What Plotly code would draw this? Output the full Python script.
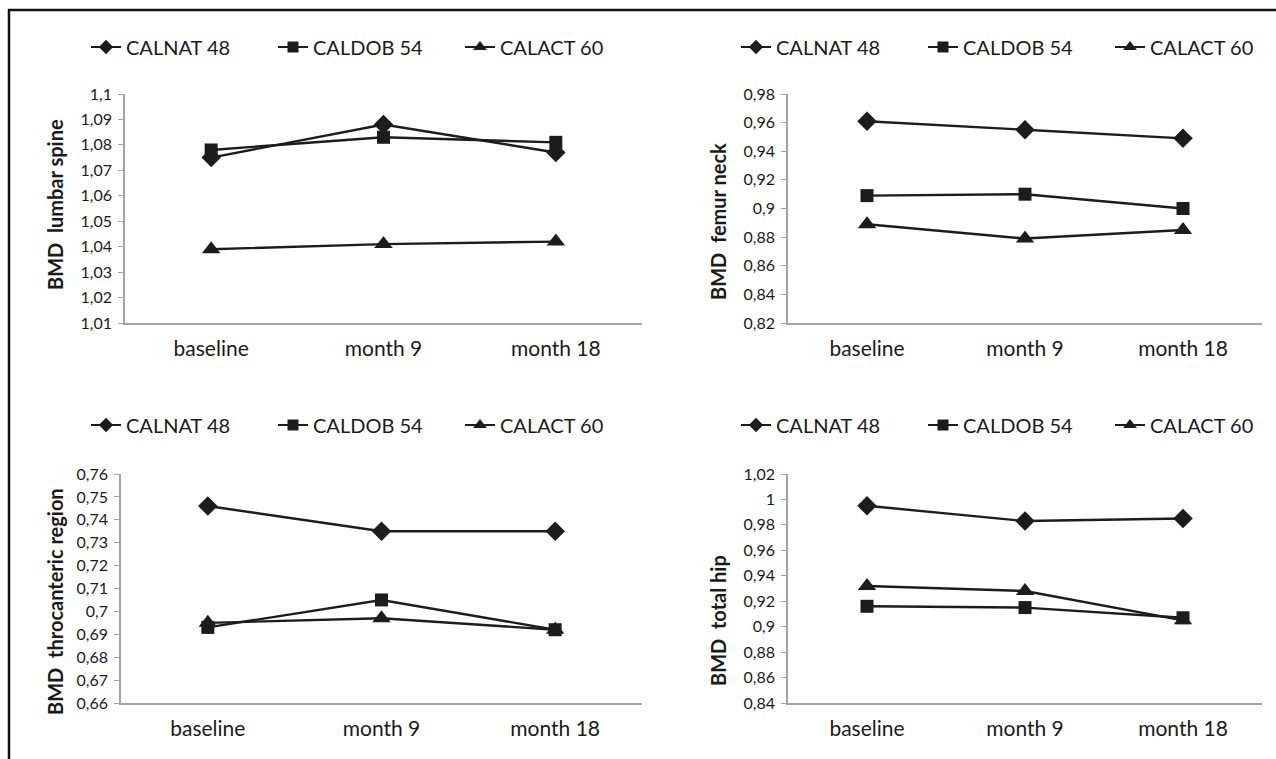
import plotly.graph_objects as go

# ---------------- data ----------------
categories = ["baseline", "month 9", "month 18"]
series_names = ["CALNAT 48", "CALDOB 54", "CALACT 60"]

lumbar_calnat = [1.075, 1.088, 1.077]
lumbar_caldob = [1.078, 1.083, 1.081]
lumbar_calact = [1.039, 1.041, 1.042]

femur_calnat = [0.961, 0.955, 0.949]
femur_caldob = [0.909, 0.910, 0.900]
femur_calact = [0.889, 0.879, 0.885]

throc_calnat = [0.746, 0.735, 0.735]
throc_caldob = [0.693, 0.705, 0.692]
throc_calact = [0.695, 0.697, 0.692]

hip_calnat = [0.995, 0.983, 0.985]
hip_caldob = [0.916, 0.915, 0.907]
hip_calact = [0.932, 0.928, 0.905]

lumbar_tickvals = [1.01, 1.02, 1.03, 1.04, 1.05, 1.06, 1.07, 1.08, 1.09, 1.10]
lumbar_ticktext = ["1,01", "1,02", "1,03", "1,04", "1,05", "1,06", "1,07", "1,08", "1,09", "1,1"]
femur_tickvals = [0.82, 0.84, 0.86, 0.88, 0.90, 0.92, 0.94, 0.96, 0.98]
femur_ticktext = ["0,82", "0,84", "0,86", "0,88", "0,9", "0,92", "0,94", "0,96", "0,98"]
throc_tickvals = [0.66, 0.67, 0.68, 0.69, 0.70, 0.71, 0.72, 0.73, 0.74, 0.75, 0.76]
throc_ticktext = ["0,66", "0,67", "0,68", "0,69", "0,7", "0,71", "0,72", "0,73", "0,74", "0,75", "0,76"]
hip_tickvals = [0.84, 0.86, 0.88, 0.90, 0.92, 0.94, 0.96, 0.98, 1.00, 1.02]
hip_ticktext = ["0,84", "0,86", "0,88", "0,9", "0,92", "0,94", "0,96", "0,98", "1", "1,02"]

y_titles = ["BMD\u00a0\u00a0lumbar spine", "BMD\u00a0\u00a0femur neck",
            "BMD\u00a0\u00a0throcanteric region", "BMD\u00a0\u00a0total hip"]

# ---------------- layout helpers ----------------
W, H = 1276, 759
FONT = "Lato, 'Open Sans', sans-serif"
LINE = "#1c1c1c"
AXIS = "#a3a3a3"
TXT = "#1a1a1a"

def px_x(v):
    return v / W

def px_y(v):
    return 1 - v / H

panels = [
    dict(data=[lumbar_calnat, lumbar_caldob, lumbar_calact], tv=lumbar_tickvals, tt=lumbar_ticktext,
         x=(125, 642), y=(94, 323), title_x=55, title_y=205, legend_x=86, legend_y=47),
    dict(data=[femur_calnat, femur_caldob, femur_calact], tv=femur_tickvals, tt=femur_ticktext,
         x=(788, 1262), y=(94, 323), title_x=718, title_y=222, legend_x=736, legend_y=47),
    dict(data=[throc_calnat, throc_caldob, throc_calact], tv=throc_tickvals, tt=throc_ticktext,
         x=(121, 642), y=(474, 703), title_x=55, title_y=602, legend_x=86, legend_y=425),
    dict(data=[hip_calnat, hip_caldob, hip_calact], tv=hip_tickvals, tt=hip_ticktext,
         x=(788, 1262), y=(474, 703), title_x=718, title_y=621, legend_x=736, legend_y=425),
]

symbols = ["diamond", "square", "triangle-up"]
sizes = [15, 13, 16]
legend_sizes = [11, 11, 12]

fig = go.Figure()
layout = dict(
    width=W, height=H, margin=dict(l=0, r=0, t=0, b=0, autoexpand=False),
    paper_bgcolor="white", plot_bgcolor="white",
    font=dict(family=FONT, color=TXT),
    annotations=[], shapes=[],
)

for i, p in enumerate(panels):
    n = "" if i == 0 else str(i + 1)
    leg = "legend" if i == 0 else f"legend{i + 1}"
    for j, vals in enumerate(p["data"]):
        fig.add_trace(go.Scatter(
            x=categories, y=vals, name=series_names[j], mode="lines+markers",
            line=dict(color=LINE, width=2.4),
            marker=dict(symbol=symbols[j], size=sizes[j], color=LINE),
            xaxis="x" + n, yaxis="y" + n, showlegend=False,
        ))
    # legend entries (smaller symbols, as in the reference legend)
    for j in range(3):
        fig.add_trace(go.Scatter(
            x=[None], y=[None], name=series_names[j], mode="lines+markers",
            line=dict(color=LINE, width=2.2),
            marker=dict(symbol=symbols[j], size=legend_sizes[j], color=LINE),
            xaxis="x" + n, yaxis="y" + n, legend=leg, showlegend=True, hoverinfo="skip",
        ))
    layout["xaxis" + n] = dict(
        domain=[px_x(p["x"][0]), px_x(p["x"][1])], anchor="y" + n,
        type="category", range=[-0.5, 2.5], showgrid=False, zeroline=False,
        showline=True, linecolor=AXIS, linewidth=1.5, ticks="",
        tickfont=dict(size=21, color=TXT, family=FONT), ticklabelstandoff=6,
        fixedrange=True,
    )
    layout["yaxis" + n] = dict(
        domain=[px_y(p["y"][1]), px_y(p["y"][0])], anchor="x" + n,
        range=[p["tv"][0], p["tv"][-1]], tickvals=p["tv"], ticktext=p["tt"],
        showgrid=False, zeroline=False, showline=True, linecolor=AXIS, linewidth=1.5,
        ticks="outside", ticklen=5, tickcolor=AXIS, tickwidth=1.2, ticklabelstandoff=3,
        tickfont=dict(size=16, color=TXT, family=FONT), fixedrange=True,
    )
    layout[leg] = dict(
        orientation="h", x=px_x(p["legend_x"]), y=px_y(p["legend_y"]),
        xanchor="left", yanchor="middle", bgcolor="rgba(0,0,0,0)",
        font=dict(size=20, color=TXT, family=FONT),
        entrywidth=142, entrywidthmode="pixels", itemwidth=30, tracegroupgap=0,
    )
    layout["annotations"].append(dict(
        text="<b>" + y_titles[i] + "</b>", textangle=-90, showarrow=False,
        xref="paper", yref="paper", x=px_x(p["title_x"]), y=px_y(p["title_y"]),
        xanchor="center", yanchor="middle", font=dict(size=20, color=TXT, family=FONT),
    ))

# outer frame
layout["shapes"].append(dict(
    type="rect", xref="paper", yref="paper",
    x0=px_x(9), y0=-0.05, x1=1.05, y1=px_y(10),
    line=dict(color="#111111", width=2.5), fillcolor="rgba(0,0,0,0)", layer="above",
))

fig.update_layout(**layout)
fig.write_html(
    "out.html",
    config={"displayModeBar": False},
    post_script="document.body.style.margin='0';document.body.style.overflow='hidden';",
)
